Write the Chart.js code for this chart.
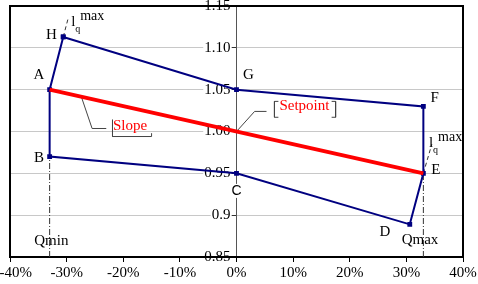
<!DOCTYPE html>
<html>
<head>
<meta charset="utf-8">
<script src="https://cdn.jsdelivr.net/npm/chart.js@4.4.1/dist/chart.umd.min.js"></script>
<style>
  html, body { margin: 0; padding: 0; background: #fff; }
</style>
</head>
<body>
<canvas id="chart" width="478" height="284"></canvas>
<script>
// operating region corners (Q in %, V in pu)
const cornerNames = ['H', 'G', 'F', 'E', 'D', 'C', 'B', 'A'];
const cornerQ = [-30.6, 0, 33, 33, 30.6, 0, -33, -33];
const cornerV = [1.113, 1.05, 1.03, 0.95, 0.889, 0.95, 0.97, 1.05];

// voltage setpoint / slope line
const slopeQ = [-33, 33];
const slopeV = [1.05, 0.95];

// Qmin / Qmax limits
const qminQ = [-33, -33];
const qminV = [0.85, 0.97];
const qmaxQ = [33, 33];
const qmaxV = [0.85, 0.95];

// Iq max extensions
const iqLeftQ = [-30.6, -29.7];
const iqLeftV = [1.113, 1.136];
const iqRightQ = [33, 34.5];
const iqRightV = [0.95, 0.985];

// callout leaders and brackets
const slopeLeadQ = [-27.4, -25.5, -23.0];
const slopeLeadV = [1.0415, 1.0036, 1.0036];
const slopeBoxQ = [-21.9, -21.9, -15.0, -15.0];
const slopeBoxV = [1.014, 0.994, 0.994, 0.998];
const spLeadQ = [0, 3.2, 5.3];
const spLeadV = [1.0, 1.024, 1.024];
const spBoxLQ = [7.4, 6.7, 6.7, 7.4];
const spBoxLV = [1.036, 1.036, 1.017, 1.017];
const spBoxRQ = [16.8, 17.5, 17.5, 16.8];
const spBoxRV = [1.036, 1.036, 1.017, 1.017];

const yTickLabels = ['0.85', '0.9', '0.95', '1.00', '1.05', '1.10', '1.15'];

const toPts = (xs, ys) => xs.map((x, i) => ({ x: x, y: ys[i] }));

const polygon = toPts(cornerQ, cornerV);
polygon.push(polygon[0]);

function lineSet(data, color, width, dash) {
    return {
        data: data,
        showLine: true,
        borderColor: color,
        borderWidth: width,
        borderDash: dash || [],
        pointRadius: 0,
        fill: false,
        tension: 0
    };
}

const serif = '"Liberation Serif", "Times New Roman", serif';

// text annotations in data units
const notes = [
    { t: 'H', x: -32.7, y: 1.115 },
    { t: 'A', x: -34.9, y: 1.067 },
    { t: 'B', x: -34.9, y: 0.968 },
    { t: 'G', x: 2.1, y: 1.067 },
    { t: 'F', x: 35.0, y: 1.040 },
    { t: 'E', x: 35.2, y: 0.954 },
    { t: 'D', x: 26.2, y: 0.880 },
    { t: 'Qmin', x: -32.7, y: 0.869 },
    { t: 'Qmax', x: 32.4, y: 0.870 },
    { t: 'Slope', x: -18.8, y: 1.006, color: '#ff0000' },
    { t: 'Setpoint', x: 12.0, y: 1.030, color: '#ff0000' }
];
const iqNotes = [
    { x: -29.2, y: 1.131 },
    { x: 34.0, y: 0.986 }
];

// move the label axis onto Q = 0 once the layout is known
const centerAxis = {
    id: 'centerAxis',
    afterLayout(chart) {
        const s = chart.scales.y2;
        const px = chart.scales.x.getPixelForValue(0);
        s.left = px - 45;
        s.right = px;
        s.width = 45;
    }
};

const frame = {
    id: 'frame',
    beforeDatasetsDraw(chart) {
        const ctx = chart.ctx;
        const a = chart.chartArea;
        ctx.save();
        ctx.strokeStyle = '#000';
        ctx.lineWidth = 2;
        ctx.strokeRect(a.left, a.top, a.right - a.left, a.bottom - a.top);
        ctx.restore();
    }
};

const annotate = {
    id: 'annotate',
    afterDraw(chart) {
        const ctx = chart.ctx;
        const xs = chart.scales.x;
        const ys = chart.scales.y;
        ctx.save();

        ctx.textAlign = 'center';
        ctx.textBaseline = 'middle';
        notes.forEach(n => {
            ctx.font = '15px ' + serif;
            ctx.fillStyle = n.color || '#000';
            ctx.fillText(n.t, xs.getPixelForValue(n.x), ys.getPixelForValue(n.y));
        });

        // C label sits on the axis with a white patch
        const cx = xs.getPixelForValue(0);
        const cy = ys.getPixelForValue(0.929);
        ctx.font = '14px "Liberation Sans", Arial, sans-serif';
        const w = ctx.measureText('C').width;
        ctx.fillStyle = '#fff';
        ctx.fillRect(cx - w / 2 - 1, cy - 7, w + 2, 14);
        ctx.fillStyle = '#000';
        ctx.fillText('C', cx, cy);

        // I_q^max
        ctx.textAlign = 'left';
        iqNotes.forEach(n => {
            const px = xs.getPixelForValue(n.x);
            const py = ys.getPixelForValue(n.y);
            ctx.font = '15px ' + serif;
            ctx.fillText('l', px, py);
            ctx.font = '10px ' + serif;
            ctx.fillText('q', px + 4, py + 7);
            ctx.font = '14px ' + serif;
            ctx.fillText('max', px + 9, py - 6);
        });
        ctx.restore();
    }
};

new Chart(document.getElementById('chart'), {
    type: 'scatter',
    data: {
        datasets: [
            lineSet(toPts(slopeQ, slopeV), '#ff0000', 4),
            Object.assign(lineSet(polygon, '#000080', 2), {
                pointRadius: 2,
                pointStyle: 'rect',
                pointBackgroundColor: '#000080',
                pointBorderColor: '#000080'
            }),
            lineSet(toPts(qminQ, qminV), '#333', 1, [6, 2, 1, 2]),
            lineSet(toPts(qmaxQ, qmaxV), '#333', 1, [6, 2, 1, 2]),
            lineSet(toPts(iqLeftQ, iqLeftV), '#333', 1, [4, 3]),
            lineSet(toPts(iqRightQ, iqRightV), '#333', 1, [4, 3]),
            lineSet(toPts(slopeLeadQ, slopeLeadV), '#444', 1),
            lineSet(toPts(slopeBoxQ, slopeBoxV), '#444', 1),
            lineSet(toPts(spLeadQ, spLeadV), '#444', 1),
            lineSet(toPts(spBoxLQ, spBoxLV), '#444', 1),
            lineSet(toPts(spBoxRQ, spBoxRV), '#444', 1)
        ]
    },
    options: {
        responsive: false,
        animation: false,
        layout: { padding: { left: 10, right: 15, top: 6, bottom: 0 } },
        plugins: { legend: { display: false }, tooltip: { enabled: false } },
        scales: {
            x: {
                type: 'linear',
                position: 'bottom',
                min: -40,
                max: 40,
                ticks: {
                    stepSize: 10,
                    color: '#000',
                    padding: 2,
                    maxRotation: 0,
                    font: { family: serif, size: 15 },
                    // first label is nudged right so it fits, like the original
                    callback: v => v === -40 ? '   ' + v + '%' : v + '%'
                },
                grid: { drawOnChartArea: false, drawTicks: true, tickLength: 5, tickColor: '#000' },
                border: { color: '#000', width: 1 },
                afterFit: s => { s.paddingLeft = 0; s.paddingRight = 0; s.height = 27; }
            },
            y: {
                type: 'linear',
                position: { x: 0 },
                min: 0.85,
                max: 1.15,
                ticks: { stepSize: 0.05, display: false },
                grid: { color: '#c8c8c8', lineWidth: 1, drawTicks: false },
                border: { color: '#555', width: 1 },
                afterFit: s => { s.paddingTop = 0; s.paddingBottom = 0; }
            },
            y2: {
                type: 'linear',
                axis: 'y',
                position: 'left',
                z: 1,
                min: 0.85,
                max: 1.15,
                ticks: {
                    stepSize: 0.05,
                    color: '#000',
                    padding: 1,
                    font: { family: serif, size: 15 },
                    showLabelBackdrop: true,
                    backdropColor: '#fff',
                    backdropPadding: 1,
                    callback: (v, i) => yTickLabels[i]
                },
                grid: { drawOnChartArea: false, drawTicks: true, tickLength: 5, tickColor: '#333' },
                border: { display: false },
                afterFit: s => { s.width = 0; s.paddingTop = 0; s.paddingBottom = 0; }
            }
        }
    },
    plugins: [centerAxis, frame, annotate]
});
</script>
</body>
</html>
